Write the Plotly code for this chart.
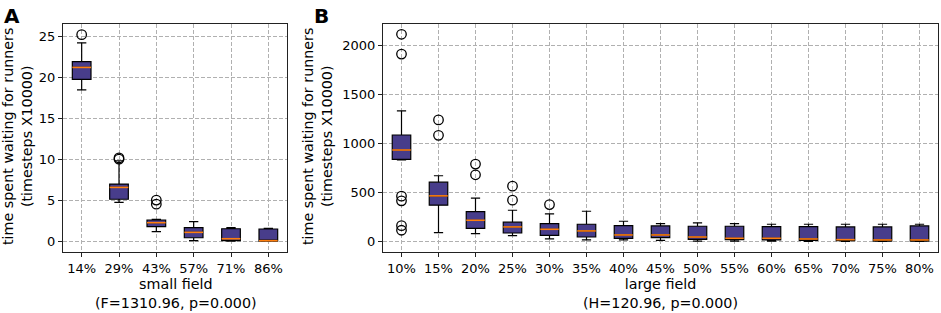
import plotly.graph_objects as go

# ---- Panel A (small field) ----
a_cats = ["14%", "29%", "43%", "57%", "71%", "86%"]
a_low = [18.45, 4.72, 1.14, 0.04, 0.0, 0.0]
a_q1 = [19.75, 5.1, 1.75, 0.4, 0.04, 0.0]
a_med = [21.2, 6.55, 2.24, 1.06, 0.28, 0.04]
a_q3 = [21.9, 6.96, 2.57, 1.63, 1.5, 1.47]
a_high = [24.2, 9.8, 2.65, 2.36, 1.63, 1.55]
a_out_cat = ["14%", "29%", "29%", "43%", "43%"]
a_out_val = [25.2, 10.0, 10.15, 5.0, 4.5]

# ---- Panel B (large field) ----
b_cats = ["10%", "15%", "20%", "25%", "30%", "35%", "40%", "45%", "50%",
          "55%", "60%", "65%", "70%", "75%", "80%"]
b_low = [830, 89, 78, 58, 24, 14, 14, 10, 3, 3, 2, 0, 0, 0, 0]
b_q1 = [836, 369, 133, 85, 61, 44, 31, 38, 20, 17, 14, 10, 7, 3, 3]
b_med = [932, 464, 215, 147, 123, 106, 65, 65, 44, 31, 31, 24, 17, 14, 14]
b_q3 = [1085, 604, 304, 195, 181, 174, 160, 157, 154, 154, 150, 150, 147, 147, 157]
b_high = [1331, 669, 440, 317, 280, 307, 205, 181, 188, 181, 174, 174, 174, 174, 174]
b_out_cat = ["10%", "10%", "10%", "10%", "10%", "10%", "15%", "15%",
             "20%", "20%", "25%", "25%", "30%"]
b_out_val = [2113, 1911, 461, 413, 160, 113, 1239, 1082, 788, 679, 563, 420, 375]

FILL = "#483D8B"
MED = "#ff7f0e"
FONT = "DejaVu Sans"
LABEL_SIZE = 14.3

fig = go.Figure()


def add_panel(cats, low, q1, med, q3, high, out_cat, out_val, xa, ya):
    pos = list(range(1, len(cats) + 1))
    idx = {c: p for c, p in zip(cats, pos)}
    fig.add_trace(go.Box(
        x=pos, q1=q1, median=med, q3=q3, lowerfence=low, upperfence=high,
        width=0.5, whiskerwidth=0.5, fillcolor=FILL,
        line=dict(color="black", width=1.2), boxpoints=False,
        showlegend=False, xaxis=xa, yaxis=ya, hoverinfo="skip"))
    mx, my = [], []
    for p, m in zip(pos, med):
        mx += [p - 0.25, p + 0.25, None]
        my += [m, m, None]
    fig.add_trace(go.Scatter(x=mx, y=my, mode="lines",
                             line=dict(color=MED, width=1.6),
                             showlegend=False, xaxis=xa, yaxis=ya, hoverinfo="skip"))
    fig.add_trace(go.Scatter(x=[idx[c] for c in out_cat], y=out_val, mode="markers",
                             marker=dict(symbol="circle-open", size=9.5,
                                         color="black", line=dict(width=1.3)),
                             showlegend=False, xaxis=xa, yaxis=ya, hoverinfo="skip"))
    return pos


pa = add_panel(a_cats, a_low, a_q1, a_med, a_q3, a_high, a_out_cat, a_out_val, "x", "y")
pb = add_panel(b_cats, b_low, b_q1, b_med, b_q3, b_high, b_out_cat, b_out_val, "x2", "y2")

W, H = 941, 313
TOP, BOT = 24, 252
PH = BOT - TOP


def py(ypx):
    return (BOT - ypx) / PH


axcommon = dict(showline=True, mirror=True, linecolor="#222", linewidth=1.2,
                ticks="outside", ticklen=4, tickcolor="#222",
                showgrid=True, gridcolor="#b0b0b0", griddash="4px,2px", gridwidth=1,
                zeroline=False, tickfont=dict(family=FONT, size=13, color="black"))

fig.update_layout(
    width=W, height=H, paper_bgcolor="white", plot_bgcolor="white",
    margin=dict(l=0, r=0, t=TOP, b=H - BOT),
    font=dict(family=FONT, size=13, color="black"),
    xaxis=dict(domain=[63 / W, 287 / W], range=[0.5, len(a_cats) + 0.5],
               tickvals=pa, ticktext=a_cats, anchor="y", **axcommon),
    yaxis=dict(domain=[0, 1], range=[-1.34, 26.5], tickvals=[0, 5, 10, 15, 20, 25],
               anchor="x", **axcommon),
    xaxis2=dict(domain=[383 / W, 938 / W], range=[0.5, len(b_cats) + 0.5],
                tickvals=pb, ticktext=b_cats, anchor="y2", **axcommon),
    yaxis2=dict(domain=[0, 1], range=[-109, 2218], tickvals=[0, 500, 1000, 1500, 2000],
                anchor="x2", **axcommon),
)

ytitle = "time spent waiting for runners<br>(timesteps X10000)"
ann = [
    dict(text="<b>A</b>", x=2 / W, y=py(2), xanchor="left", yanchor="top",
         font=dict(size=20)),
    dict(text="<b>B</b>", x=312 / W, y=py(2), xanchor="left", yanchor="top",
         font=dict(size=20)),
    dict(text=ytitle, textangle=-90, x=17 / W, y=py(137),
         xanchor="center", yanchor="middle", font=dict(size=LABEL_SIZE)),
    dict(text=ytitle, textangle=-90, x=317 / W, y=py(137),
         xanchor="center", yanchor="middle", font=dict(size=LABEL_SIZE)),
    dict(text="small field<br>(F=1310.96, p=0.000)", x=176 / W, y=py(293),
         xanchor="center", yanchor="middle", font=dict(size=LABEL_SIZE)),
    dict(text="large field<br>(H=120.96, p=0.000)", x=660 / W, y=py(293),
         xanchor="center", yanchor="middle", font=dict(size=LABEL_SIZE)),
]
for a in ann:
    a.update(xref="paper", yref="paper", showarrow=False)
    a["font"].update(family=FONT, color="black")
fig.update_layout(annotations=ann)

fig.write_html("out.html", config={"displayModeBar": False},
               post_script="document.body.style.margin='0';document.body.style.overflow='hidden';")
